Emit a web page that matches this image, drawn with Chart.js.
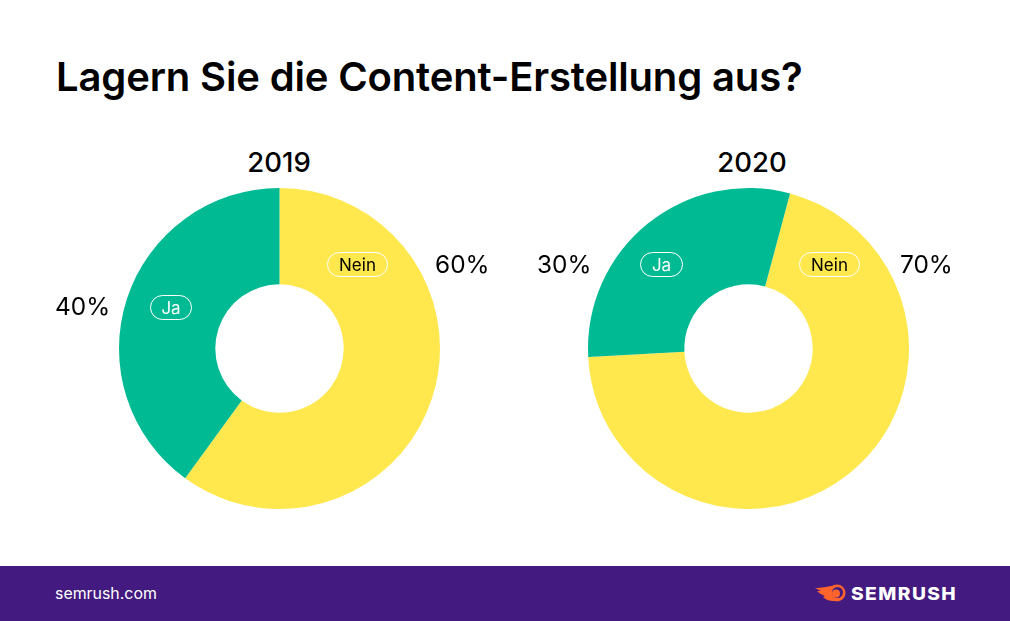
<!DOCTYPE html>
<html lang="de">
<head>
    <meta charset="UTF-8">
    <title>Lagern Sie die Content-Erstellung aus?</title>
    <script src="https://cdn.jsdelivr.net/npm/chart.js"></script>
    <style>
        html, body { margin: 0; padding: 0; background: #fff; }
        body { width: 1010px; height: 621px; position: relative; overflow: hidden; font-family: Inter, sans-serif; color: #000; }
        h1 { position: absolute; left: 56px; top: 51px; margin: 0; font-size: 40px; line-height: 52px; font-weight: 600; letter-spacing: -0.15px; white-space: nowrap; }
        .chart { position: absolute; top: 140px; width: 400px; height: 380px; }
        #chart2019 { left: 79px; }
        #chart2020 { left: 548px; }
        .year { position: absolute; top: 146px; width: 120px; text-align: center; font-size: 27.5px; line-height: 32px; font-weight: 500; }
        .pct { position: absolute; font-size: 24.4px; line-height: 30px; }
        .tag { position: absolute; height: 25px; line-height: 24px; box-sizing: border-box; border: 1px solid #fff; border-radius: 12.5px; text-align: center; font-size: 17px; }
        .footer { position: absolute; left: 0; top: 566px; width: 1010px; height: 55px; background: #431a80; color: #fff; }
        .site { position: absolute; left: 55px; top: 17px; font-size: 15.9px; line-height: 21px; }
        .brand { position: absolute; left: 851px; top: 16px; font-size: 17px; line-height: 24px; font-weight: 800; letter-spacing: 1.25px; transform: scaleX(1.13); transform-origin: left center; }
        .logo { position: absolute; left: 814px; top: 18px; }
    </style>
</head>
<body>
    <h1>Lagern Sie die Content-Erstellung aus?</h1>

    <div class="year" style="left:219px">2019</div>
    <div class="year" style="left:692px">2020</div>

    <div class="chart" id="chart2019"><canvas id="c2019"></canvas></div>
    <div class="chart" id="chart2020"><canvas id="c2020"></canvas></div>

    <div class="pct" style="left:55px;top:291px">40%</div>
    <div class="pct" style="left:435px;top:249px">60%</div>
    <div class="pct" style="left:537px;top:249px">30%</div>
    <div class="pct" style="left:900px;top:249px">70%</div>

    <div class="tag" style="left:150px;top:295px;width:42px;color:#fff">Ja</div>
    <div class="tag" style="left:327px;top:252px;width:61px">Nein</div>
    <div class="tag" style="left:640px;top:252px;width:43px;color:#fff">Ja</div>
    <div class="tag" style="left:799px;top:252px;width:61px">Nein</div>

    <div class="footer">
        <svg class="logo" width="34" height="18" viewBox="0 0 34 18">
            <path d="M1 4 C7 4 13 3 22 1 L24 16 C19 18 13 17 9 13 L11 12 C8 11 5 9 3 7 L7 7 C5 6 3 5 1 4 Z" fill="#ff642d"/>
            <circle cx="23" cy="9" r="8.5" fill="#ff642d"/>
            <circle cx="23.5" cy="8.5" r="5.5" fill="#431a80"/>
            <circle cx="22" cy="9.5" r="4" fill="#ff642d"/>
        </svg>
        <div class="site">semrush.com</div>
        <div class="brand">SEMRUSH</div>
    </div>

    <script>
        const categories = ['Nein', 'Ja'];
        const values2019 = [60, 40];
        const values2020 = [70, 30];
        const rotation2019 = 0;
        const rotation2020 = 15;
        const colors = ['#ffe84d', '#00ba94'];

        function makeDonut(id, values, rotation) {
            new Chart(document.getElementById(id), {
                type: 'doughnut',
                data: {
                    labels: categories,
                    datasets: [{
                        data: values,
                        backgroundColor: colors,
                        borderWidth: 0
                    }]
                },
                options: {
                    responsive: true,
                    maintainAspectRatio: false,
                    animation: false,
                    rotation: rotation,
                    cutout: '40%',
                    layout: { padding: { top: 48, bottom: 11, left: 40, right: 39 } },
                    plugins: { legend: { display: false }, tooltip: { enabled: false } }
                }
            });
        }

        makeDonut('c2019', values2019, rotation2019);
        makeDonut('c2020', values2020, rotation2020);
    </script>
</body>
</html>
